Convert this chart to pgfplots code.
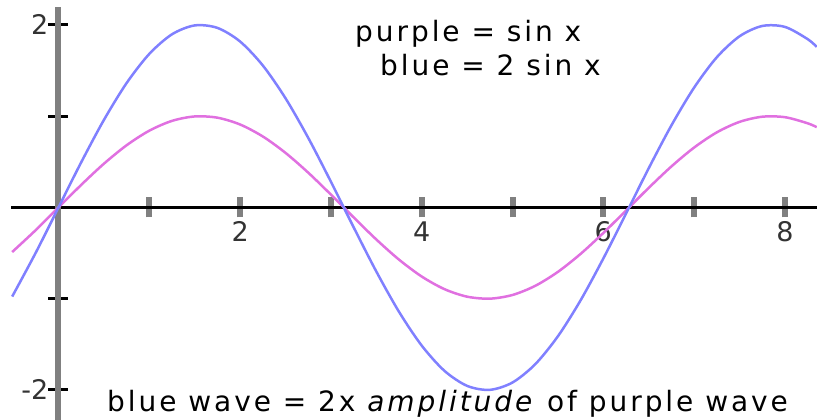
\documentclass[border=0pt]{standalone}
\usepackage{pgfplots}
\pgfplotsset{compat=1.18}
\usepackage{pgfplotstable}
\usepackage{fontspec}
\setmainfont{DejaVu Sans}[LetterSpace=10.5]
\newfontfamily\tickfont{DejaVu Sans}
\definecolor{bluew}{RGB}{128,128,255}
\definecolor{purplew}{RGB}{224,112,224}
\definecolor{axgray}{RGB}{128,128,128}
\newcommand\tf{\fontsize{27}{32}\selectfont}
\newcommand\lf{\fontsize{28}{33}\selectfont}
\pgfplotstableread{
x s b
-0.51 -0.4882 -0.9764
-0.25 -0.2474 -0.4948
0 0 0
0.25 0.2474 0.4948
0.5 0.4794 0.9589
0.75 0.6816 1.3633
1.0 0.8415 1.6829
1.25 0.9490 1.8980
1.5 0.9975 1.9950
1.75 0.9840 1.9680
2.0 0.9093 1.8186
2.25 0.7781 1.5561
2.5 0.5985 1.1969
2.75 0.3817 0.7634
3.0 0.1411 0.2822
3.25 -0.1082 -0.2164
3.5 -0.3508 -0.7016
3.75 -0.5716 -1.1433
4.0 -0.7568 -1.5136
4.25 -0.8950 -1.7900
4.5 -0.9775 -1.9550
4.75 -0.9993 -1.9986
5.0 -0.9589 -1.9178
5.25 -0.8589 -1.7178
5.5 -0.7055 -1.4110
5.75 -0.5083 -1.0166
6.0 -0.2794 -0.5588
6.25 -0.0332 -0.0664
6.5 0.2151 0.4302
6.75 0.4500 0.9000
7.0 0.6570 1.3140
7.25 0.8233 1.6466
7.5 0.9380 1.8760
7.75 0.9945 1.9890
8.0 0.9894 1.9787
8.25 0.9225 1.8450
8.35 0.8795 1.7590
}\wavedata
\begin{document}
\begin{tikzpicture}
\useasboundingbox (-11pt,0pt) rectangle (806pt,420pt);
\begin{axis}[
  at={(0pt,0pt)}, anchor=south west,
  scale only axis, width=806pt, height=413pt,
  xmin=-0.523, xmax=8.353, ymin=-2.329, ymax=2.197,
  axis lines=middle,
  axis line style={-},
  x axis line style={black, line width=3pt},
  y axis line style={axgray, line width=6pt},
  xtick={1,2,3,4,5,6,7,8},
  xticklabels={{},2,{},4,{},6,{},8},
  ytick={-2,-1,1,2},
  yticklabels={-2,{},{},2},
  tick align=center,
  major tick length=20pt,
  x tick style={axgray, line width=6pt},
  y tick style={black, line width=3pt},
  ticklabel style={font=\tickfont\tf, text=black!80, inner sep=0pt},
  xticklabel style={anchor=north, yshift=-4pt},
  yticklabel style={anchor=east},
  clip=false,
]
\addplot[purplew, line width=2.5pt, smooth] table[x=x, y=s] {\wavedata};
\addplot[bluew, line width=2.5pt, smooth] table[x=x, y=b] {\wavedata};
\end{axis}
\node[anchor=base west, inner sep=0pt, text=black] at (344pt,378pt) {\lf purple = sin x};
\node[anchor=base west, inner sep=0pt, text=black] at (369pt,344pt) {\lf blue = 2 sin x};
\node[anchor=base west, inner sep=0pt, text=black] at (96pt,8pt) {\lf blue wave = 2x \textit{amplitude} of purple wave};
\end{tikzpicture}
\end{document}
